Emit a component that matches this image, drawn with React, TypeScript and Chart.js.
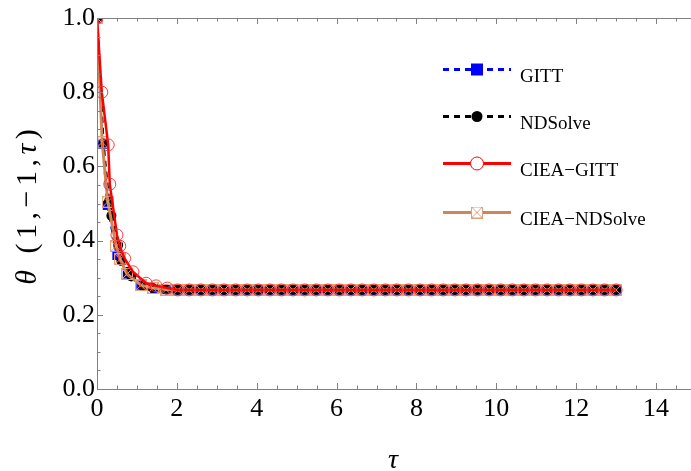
import React, { useEffect, useRef } from 'react';
import { Chart, registerables } from 'chart.js';

Chart.register(...registerables);

// ---- tick values ----
const xTicks = [0, 2, 4, 6, 8, 10, 12, 14];
const xMinorTicks = [0.5, 1, 1.5, 2.5, 3, 3.5, 4.5, 5, 5.5, 6.5, 7, 7.5, 8.5, 9, 9.5, 10.5, 11, 11.5, 12.5, 13, 13.5, 14.5];
const yTicks = [0, 0.2, 0.4, 0.6, 0.8, 1.0];
const yMinorTicks = [0.05, 0.1, 0.15, 0.25, 0.3, 0.35, 0.45, 0.5, 0.55, 0.65, 0.7, 0.75, 0.85, 0.9, 0.95];

// ---- data: plateau region (shared sample grid) ----
const flatTau = [2.02, 2.31, 2.6, 2.89, 3.18, 3.47, 3.76, 4.04, 4.33, 4.62, 4.91, 5.2, 5.49, 5.78, 6.07, 6.36, 6.64, 6.93, 7.22, 7.51, 7.8, 8.09, 8.38, 8.67, 8.96, 9.24, 9.53, 9.82, 10.11, 10.4, 10.69, 10.98, 11.27, 11.56, 11.84, 12.13, 12.42, 12.71, 13.0];
const flatTheta = [0.267, 0.267, 0.267, 0.267, 0.267, 0.267, 0.267, 0.267, 0.267, 0.267, 0.267, 0.267, 0.267, 0.267, 0.267, 0.267, 0.267, 0.267, 0.267, 0.267, 0.267, 0.267, 0.267, 0.267, 0.267, 0.267, 0.267, 0.267, 0.267, 0.267, 0.267, 0.267, 0.267, 0.267, 0.267, 0.267, 0.267, 0.267, 0.267];

// ---- data: early decay per series ----
const gittTau = [0, 0.15, 0.26, 0.5, 0.76, 1.1, 1.45, 1.73];
const gittTheta = [1.0, 0.66, 0.495, 0.36, 0.31, 0.28, 0.27, 0.268];

const ndTau = [0, 0.16, 0.3, 0.36, 0.53, 0.61, 0.78, 0.86, 1.15, 1.39, 1.73];
const ndTheta = [1.0, 0.662, 0.505, 0.467, 0.388, 0.345, 0.316, 0.303, 0.278, 0.272, 0.268];

const cgTau = [0, 0.12, 0.28, 0.32, 0.5, 0.57, 0.69, 0.9, 1.23, 1.48, 1.76];
const cgTheta = [1.0, 0.8, 0.658, 0.552, 0.415, 0.385, 0.352, 0.316, 0.285, 0.278, 0.272];

const cnTau = [0, 0.13, 0.27, 0.48, 0.58, 0.75, 1.1, 1.4, 1.73];
const cnTheta = [1.0, 0.665, 0.505, 0.385, 0.35, 0.31, 0.28, 0.272, 0.268];

const seriesNames = ['GITT', 'NDSolve', 'CIEA\u2212GITT', 'CIEA\u2212NDSolve'];
const xTitle = '\u03c4';
const yTitleParts = [
  { t: '\u03b8', italic: true },
  { t: ' ', italic: false },
  { t: '(', italic: false },
  { t: '1', italic: false },
  { t: ',', italic: false },
  { t: '\u2212', italic: false },
  { t: '1', italic: false },
  { t: ',', italic: false },
  { t: '\u03c4', italic: true },
  { t: ')', italic: false },
];

const BLUE = '#0000ff';
const BLACK = '#000000';
const RED = '#ff0000';
const TAN = 'rgb(205,135,90)';
const TAN_LIGHT = 'rgb(225,160,120)';
const AXIS = '#808080';
const FONT = '"Liberation Serif"';

function pts(t: number[], v: number[]) {
  return t.map((x, i) => ({ x, y: v[i] }));
}

function makeCrossSquare(size: number) {
  const c = document.createElement('canvas');
  c.width = size;
  c.height = size;
  const g = c.getContext('2d')!;
  g.strokeStyle = TAN_LIGHT;
  g.lineWidth = 1;
  g.strokeRect(0.5, 0.5, size - 1, size - 1);
  g.beginPath();
  g.moveTo(0.5, 0.5);
  g.lineTo(size - 0.5, size - 0.5);
  g.moveTo(size - 0.5, 0.5);
  g.lineTo(0.5, size - 0.5);
  g.stroke();
  return c;
}

export default function App() {
  const ref = useRef<HTMLCanvasElement | null>(null);

  useEffect(() => {
    const canvas = ref.current;
    if (!canvas) return;
    const crossSq = makeCrossSquare(12);

    const framePlugin = {
      id: 'frameTicks',
      afterDraw(chart: any) {
        const { ctx, chartArea } = chart;
        const xs = chart.scales.x;
        const ys = chart.scales.y;
        const L = chartArea.left, R = chart.width, T = chartArea.top, B = chartArea.bottom;
        ctx.save();
        ctx.strokeStyle = AXIS;
        ctx.lineWidth = 1;
        ctx.beginPath();
        ctx.moveTo(L, T + 0.5); ctx.lineTo(R, T + 0.5);
        ctx.moveTo(L, B + 0.5); ctx.lineTo(R, B + 0.5);
        ctx.moveTo(L + 0.5, T); ctx.lineTo(L + 0.5, B + 1);
        ctx.stroke();
        ctx.beginPath();
        const xt = (v: number, len: number) => {
          const p = Math.round(xs.getPixelForValue(v)) + 0.5;
          ctx.moveTo(p, B); ctx.lineTo(p, B - len);
          ctx.moveTo(p, T); ctx.lineTo(p, T + len);
        };
        xTicks.forEach(v => xt(v, 6));
        xMinorTicks.forEach(v => xt(v, 3.5));
        const yt = (v: number, len: number) => {
          const p = Math.round(ys.getPixelForValue(v)) + 0.5;
          ctx.moveTo(L, p); ctx.lineTo(L + len, p);
        };
        yTicks.forEach(v => yt(v, 6));
        yMinorTicks.forEach(v => yt(v, 3.5));
        ctx.stroke();

        // axis titles
        ctx.fillStyle = '#000';
        ctx.textBaseline = 'alphabetic';
        ctx.font = `italic 28px ${FONT}`;
        ctx.textAlign = 'center';
        ctx.fillText(xTitle, 393, 468);

        const gap = 4.5;
        const fs = 30;
        let total = 0;
        const widths = yTitleParts.map(s => {
          ctx.font = `${s.italic ? 'italic ' : ''}${fs}px ${FONT}`;
          const w = ctx.measureText(s.t).width;
          total += w;
          return w;
        });
        total += gap * (yTitleParts.length - 1);
        ctx.translate(36, 207);
        ctx.rotate(-Math.PI / 2);
        ctx.textAlign = 'left';
        let x0 = -total / 2;
        yTitleParts.forEach((s, i) => {
          ctx.font = `${s.italic ? 'italic ' : ''}${fs}px ${FONT}`;
          ctx.fillText(s.t, x0, 0);
          x0 += widths[i] + gap;
        });
        ctx.restore();

        // legend
        ctx.save();
        const rows = [69, 116, 163, 212];
        const x1 = 443, x2 = 511, xm = 477;
        chart.data.datasets.forEach((ds: any, i: number) => {
          const ly = rows[i] + 0.5;
          ctx.strokeStyle = ds.borderColor;
          ctx.lineWidth = 3;
          ctx.setLineDash(ds.borderDash || []);
          ctx.beginPath();
          ctx.moveTo(x1, ly); ctx.lineTo(x2, ly);
          ctx.stroke();
          ctx.setLineDash([]);
          if (i === 0) {
            ctx.fillStyle = BLUE;
            ctx.fillRect(xm - 6, ly - 6, 12, 12);
          } else if (i === 1) {
            ctx.fillStyle = BLACK;
            ctx.beginPath(); ctx.arc(xm, ly, 5.5, 0, Math.PI * 2); ctx.fill();
          } else if (i === 2) {
            ctx.fillStyle = '#fff';
            ctx.strokeStyle = RED; ctx.lineWidth = 1;
            ctx.beginPath(); ctx.arc(xm, ly, 6.5, 0, Math.PI * 2); ctx.fill(); ctx.stroke();
          } else {
            ctx.fillStyle = '#fff';
            ctx.fillRect(xm - 6, ly - 6, 12, 12);
            ctx.drawImage(crossSq, xm - 6, ly - 6);
          }
          ctx.fillStyle = '#000';
          ctx.font = `19px ${FONT}`;
          ctx.textAlign = 'left';
          ctx.textBaseline = 'alphabetic';
          ctx.fillText(seriesNames[i], 520, rows[i] + 13);
        });
        ctx.restore();
      },
    };

    const chart = new Chart(canvas, {
      type: 'scatter',
      data: {
        datasets: [
          {
            label: seriesNames[0],
            data: pts(gittTau.concat(flatTau), gittTheta.concat(flatTheta)),
            showLine: true,
            borderColor: BLUE,
            backgroundColor: BLUE,
            borderWidth: 2.5,
            borderDash: [6, 5],
            pointStyle: 'rect',
            pointRadius: 6.5,
            pointBorderWidth: 0,
            order: 4,
          },
          {
            label: seriesNames[1],
            data: pts(ndTau.concat(flatTau), ndTheta.concat(flatTheta)),
            showLine: true,
            borderColor: BLACK,
            backgroundColor: BLACK,
            borderWidth: 2.5,
            borderDash: [6, 5],
            pointStyle: 'circle',
            pointRadius: 5,
            pointBorderWidth: 0,
            order: 3,
          },
          {
            label: seriesNames[2],
            data: pts(cgTau.concat(flatTau), cgTheta.concat(flatTheta)),
            showLine: true,
            borderColor: RED,
            backgroundColor: 'rgba(0,0,0,0)',
            borderWidth: 2.5,
            pointStyle: 'circle',
            pointRadius: 6,
            pointBorderColor: 'rgba(255,40,40,0.9)',
            pointBackgroundColor: 'rgba(0,0,0,0)',
            pointBorderWidth: 1,
            order: 1,
          },
          {
            label: seriesNames[3],
            data: pts(cnTau.concat(flatTau), cnTheta.concat(flatTheta)),
            showLine: true,
            borderColor: TAN,
            backgroundColor: TAN,
            borderWidth: 3,
            pointStyle: crossSq,
            order: 2,
          },
        ],
      },
      options: {
        animation: false,
        responsive: false,
        devicePixelRatio: 1,
        layout: { padding: { top: 18, right: 0, left: 0, bottom: 0 } },
        plugins: { legend: { display: false }, tooltip: { enabled: false }, title: { display: false } },
        elements: { line: { tension: 0 } },
        scales: {
          x: {
            type: 'linear',
            min: 0,
            max: 14.7,
            afterBuildTicks: (s: any) => { s.ticks = xTicks.map(v => ({ value: v })); },
            afterFit: (s: any) => { s.height = 82; s.paddingLeft = 0; s.paddingRight = 0; },
            grid: { display: false, drawTicks: false },
            border: { display: false },
            ticks: {
              autoSkip: false,
              maxRotation: 0,
              padding: 5,
              color: '#000',
              font: { family: FONT, size: 26 },
              callback: (v: any) => String(v),
            },
          },
          y: {
            type: 'linear',
            min: 0,
            max: 1,
            afterBuildTicks: (s: any) => { s.ticks = yTicks.map(v => ({ value: v })); },
            afterFit: (s: any) => { s.width = 97; s.paddingTop = 0; s.paddingBottom = 0; },
            grid: { display: false, drawTicks: false },
            border: { display: false },
            ticks: {
              autoSkip: false,
              padding: 2,
              color: '#000',
              font: { family: FONT, size: 26 },
              callback: (v: any) => Number(v).toFixed(1),
            },
          },
        },
      },
      plugins: [framePlugin],
    } as any);

    return () => chart.destroy();
  }, []);

  return (
    <div style={{ position: 'fixed', left: 0, top: 0, width: 691, height: 471, background: '#fff' }}>
      <canvas ref={ref} width={691} height={471} style={{ display: 'block', width: 691, height: 471 }} />
    </div>
  );
}
